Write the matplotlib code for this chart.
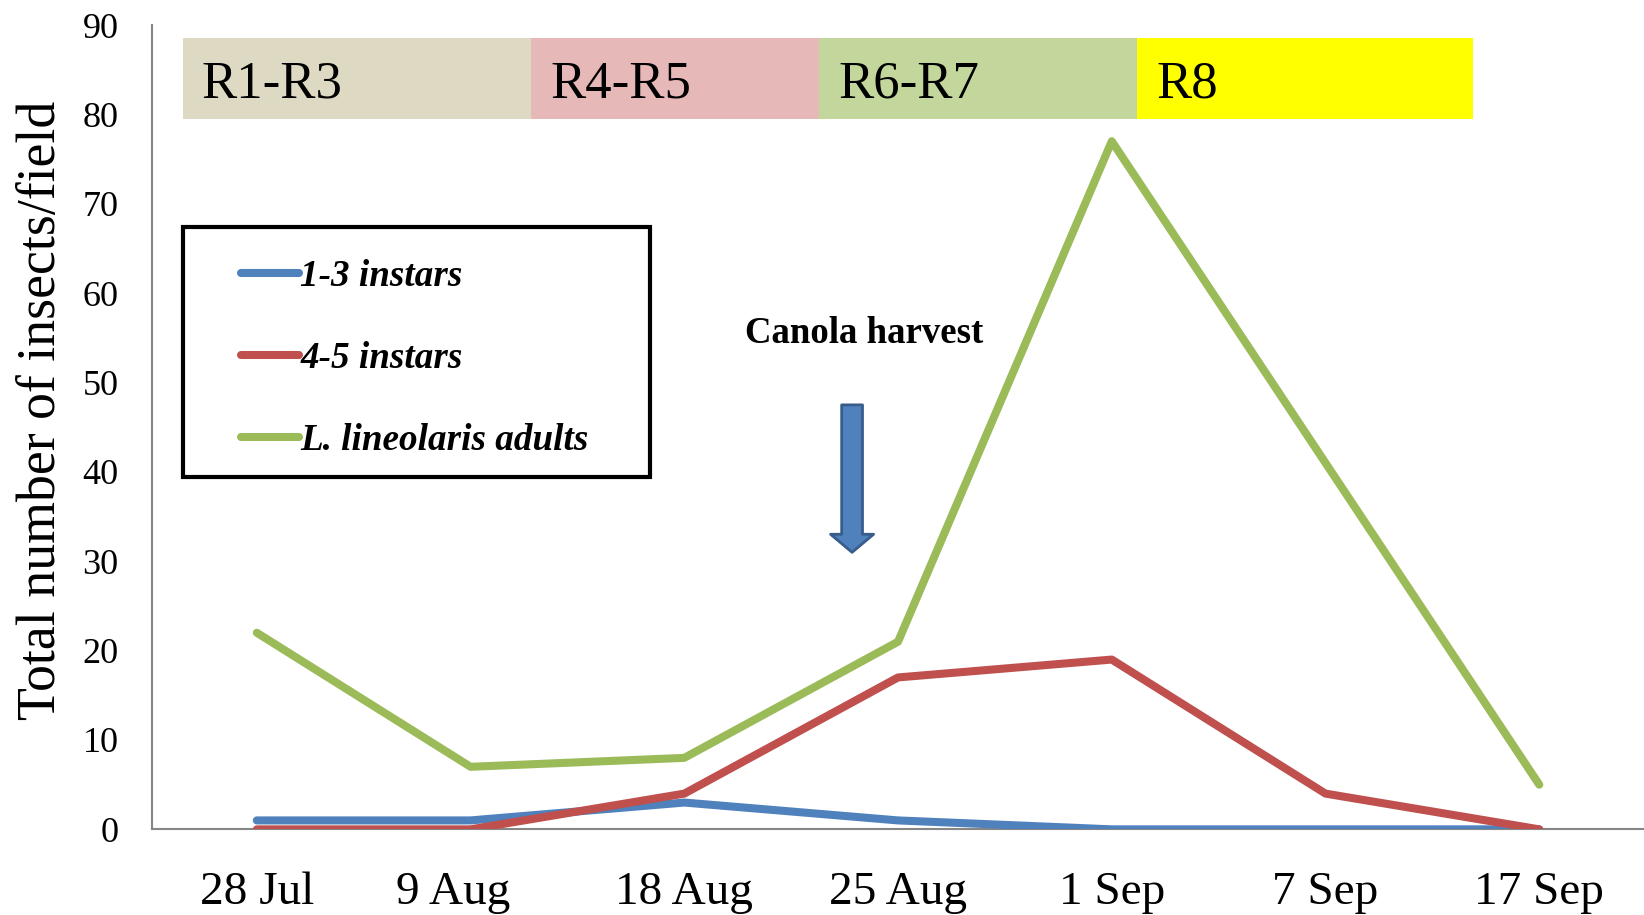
import matplotlib
matplotlib.use('Agg')
import matplotlib.pyplot as plt
import matplotlib.transforms as mtransforms
from matplotlib.patches import Rectangle

# ---- data ----
dates = ['28 Jul', '9 Aug', '18 Aug', '25 Aug', '1 Sep', '7 Sep', '17 Sep']
instars_1_3 = [1, 1, 3, 1, 0, 0, 0]
instars_4_5 = [0, 0, 4, 17, 19, 4, 0]
adults = [22, 7, 8, 21, 77, 41, 5]
series_labels = ['1-3 instars', '4-5 instars', 'L. lineolaris adults']
stages = ['R1-R3', 'R4-R5', 'R6-R7', 'R8']
stage_edges = [-0.347, 1.285, 2.63, 4.12, 5.69]

plt.rcParams['font.family'] = ['Liberation Serif', 'DejaVu Serif']

fig = plt.figure(figsize=(16.44, 9.15), dpi=100)
ax = fig.add_axes([0.0925, 0.0936, 0.9075, 0.879])

x = list(range(len(dates)))
colors = ['#4F81BD', '#C0504D', '#9BBB59']
lines = []
for vals, c, lab in zip([instars_1_3, instars_4_5, adults], colors, series_labels):
    ln, = ax.plot(x, vals, color=c, lw=5.8, solid_capstyle='round',
                  solid_joinstyle='round', label=lab, zorder=3)
    lines.append(ln)

ax.set_xlim(-0.49, 6.49)
ax.set_ylim(0, 90)
ax.set_yticks(range(0, 91, 10))
ax.set_xticks(x)
ax.set_xticklabels(dates, fontsize=34)
ax.tick_params(axis='y', labelsize=26, length=0, pad=24)
ax.tick_params(axis='x', length=0, pad=30)
# the '9 Aug' label sits slightly left of its category in the original
lbl = ax.get_xticklabels()[1]
lbl.set_transform(lbl.get_transform() +
                  mtransforms.ScaledTranslation(-17 / 100, 0, fig.dpi_scale_trans))
for s in ['top', 'right']:
    ax.spines[s].set_visible(False)
for s in ['left', 'bottom']:
    ax.spines[s].set_color('#868686')
    ax.spines[s].set_linewidth(1.5)

ax.set_ylabel('Total number of insects/field', fontsize=38.7)
ax.yaxis.set_label_coords(-0.057, 0.521)

# stage bands
band_colors = ['#DDD9C3', '#E6B9B8', '#C3D69B', '#FFFF00']
for i, (st, bc) in enumerate(zip(stages, band_colors)):
    x0, x1 = stage_edges[i], stage_edges[i + 1]
    ax.add_patch(Rectangle((x0, 79.5), x1 - x0, 9.0, facecolor=bc,
                           edgecolor='none', zorder=2))
    ax.text(x0 + 0.09, 83.3, st, fontsize=38, va='center', ha='left', zorder=4)

# Canola harvest annotation
ax.text(2.84, 55.5, 'Canola harvest', fontsize=26.6, fontweight='bold',
        ha='center', va='center')
ax.annotate('', xy=(2.785, 31.0), xytext=(2.785, 47.5),
            arrowprops=dict(arrowstyle='simple,head_length=0.65,head_width=1.55,tail_width=0.75',
                            mutation_scale=20, fc='#4F81BD', ec='#385D8A', lw=2,
                            shrinkA=0, shrinkB=0))

# legend
ax.add_patch(Rectangle((0.0208, 0.438), 0.313, 0.311, transform=ax.transAxes,
                       facecolor='white', edgecolor='black', lw=3, zorder=5))
leg = ax.legend(handles=lines, loc='upper left', bbox_to_anchor=(0.0597, 0.709),
                frameon=False, borderpad=0, borderaxespad=0, handlelength=1.55,
                handletextpad=0.05, labelspacing=1.26,
                prop=dict(family='Liberation Serif', style='italic', weight='bold', size=26.7))
leg.set_zorder(6)

fig.savefig('out.png', dpi=100)
